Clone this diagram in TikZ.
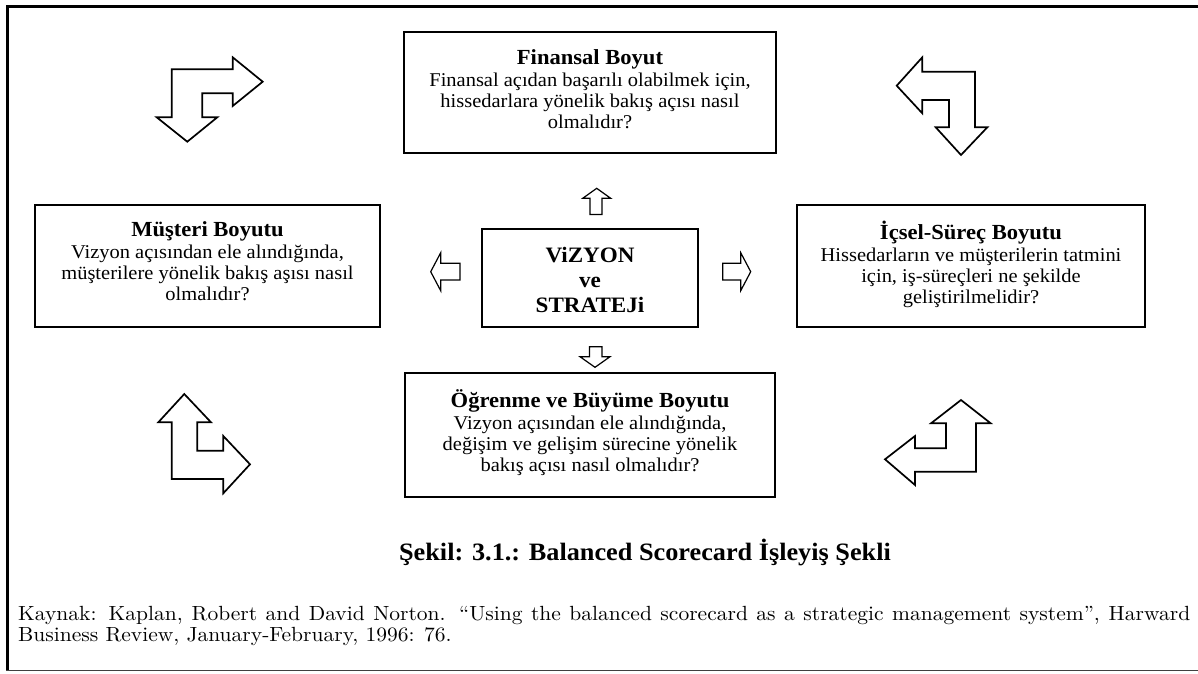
\documentclass[tikz,border=0pt]{standalone}
\usepackage{fontspec}
\newfontfamily\tnr{Liberation Serif}[FakeStretch=1.05]
\newfontfamily\srcfont{lmroman10-regular}[Extension=.otf,FakeStretch=1.05]
\newcommand\boxtitle{\fontsize{21.5}{21}\selectfont\bfseries}
\begin{document}
\begin{tikzpicture}[x=1pt,y=-1pt,
  box/.style={draw=black,line width=1.7pt,rectangle,inner sep=0pt},
  boxtext/.style={align=center,inner sep=0pt,anchor=north,
    font=\fontsize{19.5}{21}\selectfont\tnr},
  bigarrow/.style={draw=black,line width=1.7pt,line join=miter,fill=white},
  smallarrow/.style={draw=black,line width=1.2pt,line join=miter,fill=white},
]
\useasboundingbox (0,0) rectangle (1198,673);
\fill[white] (0,0) rectangle (1198,673);

% outer frame
\draw[line width=3pt] (1198,6.5) -- (7.5,6.5) -- (7.5,671);
\draw[line width=1.4pt,black!75] (6,670.5) -- (1198,670.5);

% perspective boxes
\node[box,minimum width=372pt,minimum height=121pt] (fin) at (590,92.5) {};
\node[box,minimum width=345pt,minimum height=122pt] (mus) at (207.5,266) {};
\node[box,minimum width=348pt,minimum height=122pt] (ics) at (971,266) {};
\node[box,minimum width=370pt,minimum height=124pt] (ogr) at (590,435) {};
\node[box,minimum width=216pt,minimum height=98pt] (viz) at (590,278) {};

\node[boxtext] (fintxt) at (590,64-14.7)
  {{\boxtitle\strut Finansal Boyut}\\[1pt]
   Finansal açıdan başarılı olabilmek için,\\
   hissedarlara yönelik bakış açısı nasıl\\
   olmalıdır?};
\node[boxtext] (mustxt) at (207.5,236-14.7)
  {{\boxtitle\strut Müşteri Boyutu}\\[1pt]
   Vizyon açısından ele alındığında,\\
   müşterilere yönelik bakış aşısı nasıl\\
   olmalıdır?};
\node[boxtext] (icstxt) at (971,236-14.7)
  {{\boxtitle\strut İçsel-Süreç Boyutu}\\[1pt]
   Hissedarların ve müşterilerin tatmini\\
   için, iş-süreçleri ne şekilde\\
   geliştirilmelidir?};
\node[boxtext] (ogrtxt) at (590,404-14.7)
  {{\boxtitle\strut Öğrenme ve Büyüme Boyutu}\\[1pt]
   Vizyon açısından ele alındığında,\\
   değişim ve gelişim sürecine yönelik\\
   bakış açısı nasıl olmalıdır?};
\node[boxtext,font=\fontsize{22}{25}\selectfont\tnr\bfseries] (viztxt) at (590,262-17.5)
  {\strut ViZYON\\ ve\\ STRATEJi};

% small block arrows around the centre
\draw[smallarrow] (596.7,188.3) -- (610.7,198.3) -- (602,198.3) -- (602,214.5)
  -- (590,214.5) -- (590,198.3) -- (582.7,198.3) -- cycle;
\draw[smallarrow] (595,367.3) -- (610,356.7) -- (602,356.7) -- (602,346.7)
  -- (589.5,346.7) -- (589.5,356.7) -- (580,356.7) -- cycle;
\draw[smallarrow] (430.7,271.7) -- (440.7,252.7) -- (440.7,263.3) -- (460,263.3)
  -- (460,280) -- (440.7,280) -- (440.7,290.7) -- cycle;
\draw[smallarrow] (750.7,271.7) -- (740.7,252.7) -- (740.7,263.3) -- (722.7,263.3)
  -- (722.7,280) -- (740.7,280) -- (740.7,290.7) -- cycle;

% corner turning arrows
\draw[bigarrow] (171.7,69.3) -- (232.7,69.3) -- (232.7,57.3) -- (262.7,81.7)
  -- (232.7,106) -- (232.7,93.3) -- (202.3,93.3) -- (202.3,117.3) -- (217.3,117.3)
  -- (187.3,141.7) -- (156.7,117.3) -- (171.7,117.3) -- cycle;
\draw[bigarrow] (896.7,85.7) -- (922.3,57.3) -- (922.3,71.7) -- (975,71.7)
  -- (975,127.3) -- (987.3,127.3) -- (961,155) -- (935.7,127.3) -- (949,127.3)
  -- (949,100) -- (922.3,100) -- (922.3,113.3) -- cycle;
\draw[bigarrow] (184.3,394) -- (211,422.3) -- (197.3,422.3) -- (197.3,450.7)
  -- (223.3,450.7) -- (223.3,436) -- (250,464.3) -- (223.3,493.3) -- (223.3,479)
  -- (171.7,479) -- (171.7,422.3) -- (158.3,422.3) -- cycle;
\draw[bigarrow] (961,400) -- (990.7,423.3) -- (976,423.3) -- (976,471.7)
  -- (915,471.7) -- (915,485) -- (885,459.3) -- (915,436) -- (915,448.3)
  -- (946,448.3) -- (946,423.3) -- (931,423.3) -- cycle;

% caption and source
\node[anchor=base,inner sep=0pt,font=\fontsize{25}{28}\selectfont\tnr\bfseries]
  (caption) at (645,560) {Şekil: 3.1.: Balanced Scorecard İşleyiş Şekli};
\node[anchor=north west,inner sep=0pt,text width=1172pt,align=justify,
  font=\fontsize{20.5}{18}\selectfont\srcfont] (source) at (18,619-12.6)
  {\strut Kaynak: Kaplan, Robert and David Norton. “Using the balanced scorecard as a strategic management system”, Harward\linebreak
   Business Review, January-February, 1996: 76.};
\end{tikzpicture}
\end{document}
